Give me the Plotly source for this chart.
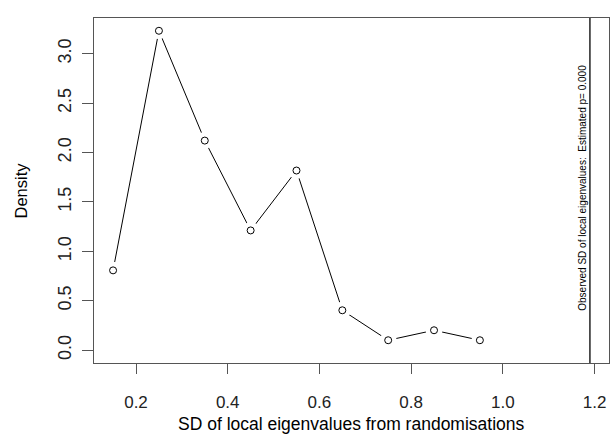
import plotly.graph_objects as go

# bin midpoints and density values
mids = [0.15, 0.25, 0.35, 0.45, 0.55, 0.65, 0.75, 0.85, 0.95]
density = [0.808, 3.232, 2.121, 1.212, 1.818, 0.404, 0.101, 0.202, 0.101]
observed = 1.19
obs_label = "Observed SD of local eigenvalues:  Estimated p= 0.000"
x_ticks = [0.2, 0.4, 0.6, 0.8, 1.0, 1.2]
y_ticks = [0.0, 0.5, 1.0, 1.5, 2.0, 2.5, 3.0]

xmin, xmax = min(mids), observed
xpad = 0.04 * (xmax - xmin)
ymin, ymax = 0.0, max(density)
ypad = 0.04 * (ymax - ymin)

font = "Liberation Sans, Arial, sans-serif"

fig = go.Figure()
fig.add_trace(go.Scatter(x=mids, y=density, mode="lines",
                         line=dict(color="black", width=1), hoverinfo="skip"))
# white disks create the gaps around points (R type="b")
fig.add_trace(go.Scatter(x=mids, y=density, mode="markers",
                         marker=dict(symbol="circle", size=17, color="white",
                                     line=dict(width=0)), hoverinfo="skip"))
fig.add_trace(go.Scatter(x=mids, y=density, mode="markers",
                         marker=dict(symbol="circle-open", size=7, color="black",
                                     line=dict(width=1, color="black"))))

fig.add_shape(type="line", xref="x", yref="paper", x0=observed, x1=observed,
              y0=0, y1=1, line=dict(color="black", width=1.3))

fig.add_annotation(x=observed - 0.016, y=1.64, xref="x", yref="y",
                   text=obs_label, textangle=-90, showarrow=False,
                   font=dict(family=font, size=10, color="black"),
                   xanchor="center", yanchor="middle")

fig.add_annotation(x=0, y=0.5, xref="paper", yref="paper", text="Density",
                   textangle=-90, showarrow=False, xshift=-74,
                   font=dict(family=font, size=16.5, color="black"),
                   xanchor="center", yanchor="middle")
fig.add_annotation(x=0.5, y=0, xref="paper", yref="paper",
                   text="SD of local eigenvalues from randomisations",
                   showarrow=False, yshift=-61,
                   font=dict(family=font, size=17.5, color="black"),
                   xanchor="center", yanchor="middle")

axis_common = dict(showline=True, mirror=True, linecolor="#555555", linewidth=1.3,
                   showgrid=False, zeroline=False, ticks="outside",
                   tickcolor="#555555", tickwidth=1.3)
fig.update_xaxes(range=[xmin - xpad, xmax + xpad], tickvals=x_ticks,
                 ticktext=[f"{v:.1f}" for v in x_ticks], ticklen=10,
                 ticklabelstandoff=13,
                 tickfont=dict(family=font, size=17, color="#222222"),
                 **axis_common)
fig.update_yaxes(range=[ymin - ypad, ymax + ypad], tickvals=y_ticks,
                 ticktext=[f"{v:.1f}" for v in y_ticks], ticklen=11,
                 ticklabelstandoff=4, tickangle=-90,
                 tickfont=dict(family=font, size=18, color="#222222"),
                 **axis_common)

fig.update_layout(width=610, height=434, showlegend=False,
                  plot_bgcolor="white", paper_bgcolor="white",
                  margin=dict(l=94, r=1, t=18, b=71))

fig.write_html("out.html")
